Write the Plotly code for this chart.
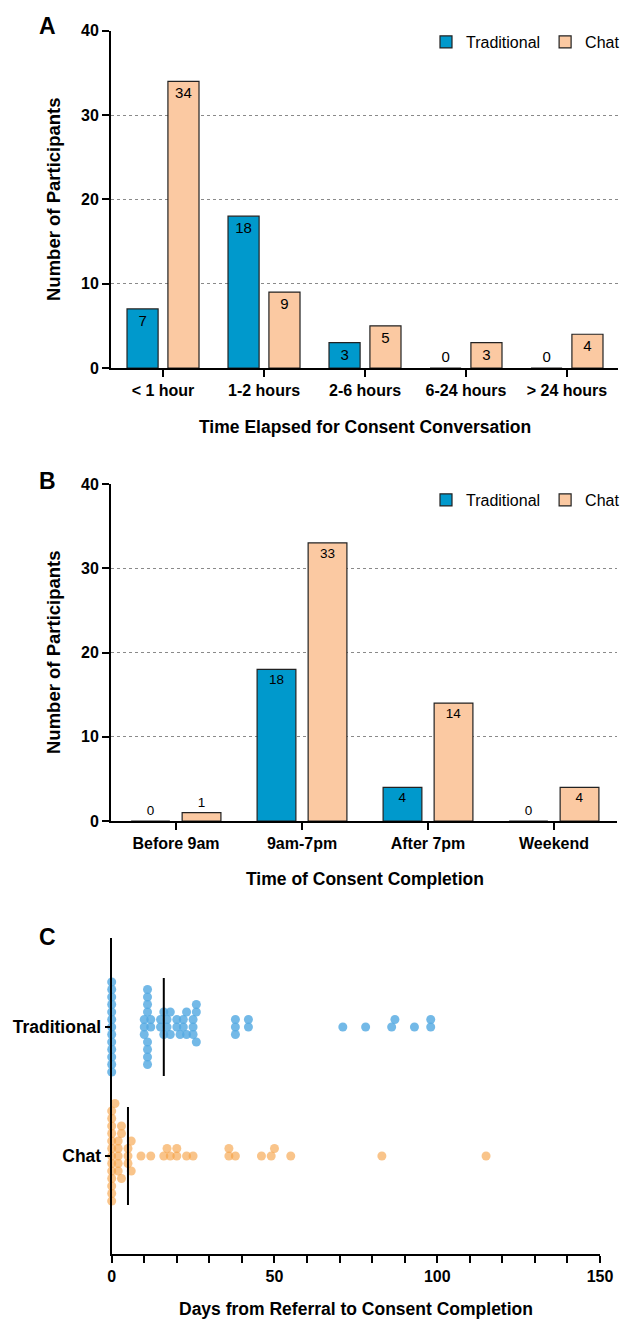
import numpy as np
import plotly.graph_objects as go

W, H = 638, 1319
FONT = "Liberation Sans, Arial, Helvetica, sans-serif"

# ---------------- data ----------------
a_categories = ["< 1 hour", "1-2 hours", "2-6 hours", "6-24 hours", "> 24 hours"]
a_traditional = [7, 18, 3, 0, 0]
a_chat = [34, 9, 5, 3, 4]

b_categories = ["Before 9am", "9am-7pm", "After 7pm", "Weekend"]
b_traditional = [0, 18, 4, 0]
b_chat = [1, 33, 14, 4]

c_groups = ["Traditional", "Chat"]
c_traditional_days = [0, 0, 0, 0, 0, 0, 0, 0, 0, 0, 0, 0, 0,
                      10, 10, 10, 11, 11, 11, 11, 11, 11, 11, 11, 12, 12,
                      15, 15, 16, 16, 17, 17, 18, 18, 20, 20, 21, 22, 22, 23, 23,
                      25, 25, 25, 26, 26, 26,
                      38, 38, 38, 42, 42,
                      71, 78, 86, 87, 93, 98, 98]
c_chat_days = [0, 0, 0, 0, 0, 0, 0, 0, 0, 0, 0, 0, 0,
               1, 2, 2, 2, 2, 2, 3, 3, 3, 5, 5, 5, 6, 6,
               9, 12, 16, 17, 18, 20, 20, 23, 25,
               36, 36, 38, 46, 49, 50, 55, 83, 115]

series_names = ["Traditional", "Chat"]
bar_colors = ["#0099CC", "#FBC9A2"]
dot_colors = ["rgba(84,170,226,0.82)", "rgba(245,160,66,0.62)"]

# ---------------- helpers ----------------
def px_x(p):
    return p / W


def px_y(p):
    return 1 - p / H


C_X0, C_X1 = 111.7, 600.0
C_XMAX = 150.0
C_PX_PER_DAY = (C_X1 - C_X0) / C_XMAX
C_Y_TOP, C_Y_BOT = 938.0, 1254.0
C_PX_PER_CAT = 129.0
C_YMIN = -(C_Y_BOT - 1156.0) / C_PX_PER_CAT
C_YMAX = (1156.0 - C_Y_TOP) / C_PX_PER_CAT
STEP_PX = 3.75
MIN_DIST_PX = 6.5


def swarm_offsets(values):
    """beeswarm on half-row grid with euclidean collision; offsets in category units"""
    order = sorted(range(len(values)), key=lambda i: values[i])
    placed = []
    offs = [0.0] * len(values)
    for i in order:
        xpx = values[i] * C_PX_PER_DAY
        near = [(px, py) for px, py in placed if abs(px - xpx) < MIN_DIST_PX]
        k = 0
        chosen = None
        while chosen is None:
            for r in ([0] if k == 0 else [k, -k]):
                ypx = r * STEP_PX
                if all((px - xpx) ** 2 + (py - ypx) ** 2 >= MIN_DIST_PX ** 2 for px, py in near):
                    chosen = ypx
                    break
            k += 1
        placed.append((xpx, chosen))
        offs[i] = chosen / C_PX_PER_CAT
    return offs


def text_pos(vals):
    return ["inside" if v >= 2 else "outside" for v in vals]


fig = go.Figure()

# ---------------- panel A ----------------
for name, vals, col in zip(series_names, [a_traditional, a_chat], bar_colors):
    fig.add_trace(go.Bar(
        x=a_categories, y=vals, name=name, marker=dict(color=col, line=dict(color="#222", width=1.2)),
        text=[str(v) for v in vals], textposition=text_pos(vals), insidetextanchor="end",
        textangle=0, constraintext="none", cliponaxis=False,
        textfont=dict(family=FONT, size=15, color="black"),
        xaxis="x", yaxis="y", legend="legend", hoverinfo="skip"))

# ---------------- panel B ----------------
for name, vals, col in zip(series_names, [b_traditional, b_chat], bar_colors):
    fig.add_trace(go.Bar(
        x=b_categories, y=vals, name=name, marker=dict(color=col, line=dict(color="#222", width=1.2)),
        text=[str(v) for v in vals], textposition=text_pos(vals), insidetextanchor="end",
        textangle=0, constraintext="none", cliponaxis=False,
        textfont=dict(family=FONT, size=13.5, color="black"),
        xaxis="x2", yaxis="y2", legend="legend2", hoverinfo="skip"))

# ---------------- panel C ----------------
cat_pos = {"Traditional": 1, "Chat": 0}
for grp, days, col in zip(c_groups, [c_traditional_days, c_chat_days], dot_colors):
    offs = swarm_offsets(days)
    fig.add_trace(go.Scatter(
        x=days, y=[cat_pos[grp] + o for o in offs], mode="markers",
        marker=dict(size=9, color=col, line=dict(width=0)),
        cliponaxis=False, showlegend=False, xaxis="x3", yaxis="y3", hoverinfo="skip"))
for grp, days in zip(c_groups, [c_traditional_days, c_chat_days]):
    med = float(np.median(days))
    fig.add_trace(go.Scatter(
        x=[med, med], y=[cat_pos[grp] - 0.38, cat_pos[grp] + 0.38], mode="lines",
        line=dict(color="black", width=2), showlegend=False,
        xaxis="x3", yaxis="y3", hoverinfo="skip"))

axis_common = dict(showline=True, linecolor="black", linewidth=2, ticks="outside",
                   ticklen=7, tickwidth=2, tickcolor="black", zeroline=False, automargin=False,
                   tickfont=dict(family=FONT, size=16, color="black", weight="bold"))

grid = dict(showgrid=True, gridcolor="#8a8a8a", gridwidth=1, griddash="dot")

fig.update_layout(
    width=W, height=H, margin=dict(l=0, r=0, t=0, b=0, pad=0), autosize=False,
    paper_bgcolor="white", plot_bgcolor="white",
    barmode="group", bargap=0.19, bargroupgap=0.24,
    font=dict(family=FONT, color="black"),
    xaxis=dict(domain=[px_x(111), px_x(617.5)], anchor="y", type="category",
               range=[-0.515, 4.5], showgrid=False, **axis_common),
    yaxis=dict(domain=[px_y(368), px_y(30.7)], anchor="x", range=[0, 40], dtick=10,
               **grid, **axis_common),
    xaxis2=dict(domain=[px_x(111), px_x(617)], anchor="y2", type="category",
                range=[-0.516, 3.5], showgrid=False, **axis_common),
    yaxis2=dict(domain=[px_y(821), px_y(484)], anchor="x2", range=[0, 40], dtick=10,
                **grid, **axis_common),
    xaxis3=dict(domain=[px_x(C_X0), px_x(C_X1)], anchor="y3", range=[0, C_XMAX],
                tickmode="linear", tick0=0, dtick=50, showgrid=False,
                minor=dict(dtick=10, ticks="outside", ticklen=7, tickwidth=2,
                           tickcolor="black", showgrid=False),
                **axis_common),
    yaxis3=dict(domain=[px_y(C_Y_BOT), px_y(C_Y_TOP)], anchor="x3",
                range=[C_YMIN, C_YMAX], tickmode="array",
                tickvals=[cat_pos[g] for g in c_groups], ticktext=c_groups,
                showgrid=False,
                **{**axis_common, "ticklen": 5,
                   "tickfont": dict(family=FONT, size=17.5, color="black", weight="bold")}),
    legend=dict(orientation="h", x=px_x(625), xanchor="right", y=px_y(42), yanchor="middle",
                font=dict(family=FONT, size=16, color="black"), bgcolor="rgba(0,0,0,0)",
                traceorder="normal", itemclick=False, itemdoubleclick=False),
    legend2=dict(orientation="h", x=px_x(625), xanchor="right", y=px_y(500), yanchor="middle",
                 font=dict(family=FONT, size=16, color="black"), bgcolor="rgba(0,0,0,0)",
                 traceorder="normal", itemclick=False, itemdoubleclick=False),
)

annots = [
    ("<b>A</b>", 47, 26, 23, 0), ("<b>B</b>", 47, 481, 23, 0), ("<b>C</b>", 47, 937, 23, 0),
    ("<b>Number of Participants</b>", 53, 199, 18.5, -90),
    ("<b>Time Elapsed for Consent Conversation</b>", 365, 427, 17.5, 0),
    ("<b>Number of Participants</b>", 53, 652, 18.5, -90),
    ("<b>Time of Consent Completion</b>", 365, 879, 17.5, 0),
    ("<b>Days from Referral to Consent Completion</b>", 356, 1309, 17.5, 0),
]
for txt, x, y, size, ang in annots:
    fig.add_annotation(text=txt, x=px_x(x), y=px_y(y), xref="paper", yref="paper",
                       xanchor="center", yanchor="middle", showarrow=False, textangle=ang,
                       font=dict(family=FONT, size=size, color="black"))

fig.write_html("out.html", config={"displayModeBar": False, "staticPlot": True},
               post_script="document.body.style.margin='0px';"
                           "document.body.style.overflow='hidden';")
